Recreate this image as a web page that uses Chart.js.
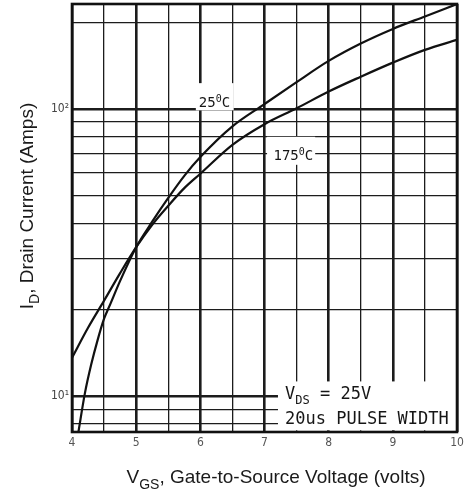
<!DOCTYPE html>
<html>
<head>
<meta charset="utf-8">
<script src="https://cdn.jsdelivr.net/npm/chart.js@4.4.1/dist/chart.umd.min.js"></script>
<style>
  html, body { margin: 0; padding: 0; background: #fff; }
  #wrap { width: 466px; height: 498px; }
</style>
</head>
<body>
<div id="wrap"><canvas id="transferChart" width="466" height="498"></canvas></div>
<script>
// 25 C curve (steeper one, crosses 175 C near 5 V)
const vgs25 = [4.1, 4.2, 4.3, 4.4, 4.5, 4.6, 4.75, 5.0, 5.25, 5.5, 5.75, 6.0, 6.5, 7.0, 7.5, 8.0, 8.5, 9.0, 9.5, 10.0];
const id25  = [7.5, 10.2, 12.9, 15.7, 18.6, 21, 25.2, 33, 40.5, 49, 58.5, 68, 87, 104, 124, 147, 169, 190, 210, 232];

// 175 C curve
const vgs175 = [4.0, 4.25, 4.5, 4.75, 5.0, 5.25, 5.5, 5.75, 6.0, 6.5, 7.0, 7.5, 8.0, 8.5, 9.0, 9.5, 10.0];
const id175  = [13.6, 17.3, 21.5, 26.8, 33, 39.5, 46, 53, 59.5, 75, 88.5, 100.5, 115, 129.5, 145, 160.6, 174];

const yGridValues = [8, 9, 10, 20, 30, 40, 50, 60, 70, 80, 90, 100, 200];
const yLabelValues = [10, 100];
const yLabelTexts = ['10\u00b9', '10\u00b2'];

function toPoints(xs, ys) {
    return xs.map((x, i) => ({ x: x, y: ys[i] }));
}

// text pieces: [text, 'sub' | 'sup' | '']
const notes = [
    { parts: [['25', ''], ['0', 'sup'], ['C', '']], x: 6.22, y: 101.6, align: 'center', size: 14,
      box: [5.93, 98.9, 6.52, 123] },
    { parts: [['175', ''], ['0', 'sup'], ['C', '']], x: 7.45, y: 66.5, align: 'center', size: 14,
      box: [7.04, 63.9, 7.79, 80] },
    { parts: [['V', ''], ['DS', 'sub'], [' = 25V', '']], x: 7.32, y: 9.78, align: 'left', size: 17,
      box: [7.21, 7.6, 10, 11.25] },
    { parts: [['20us PULSE WIDTH', '']], x: 7.32, y: 7.97, align: 'left', size: 17, box: null }
];

function drawParts(ctx, parts, x, y, align, size, family) {
    const small = Math.round(size * 0.72);
    const fontFor = kind => (kind ? small : size) + 'px ' + family;
    let total = 0;
    parts.forEach(p => { ctx.font = fontFor(p[1]); total += ctx.measureText(p[0]).width; });
    let cx = align === 'center' ? x - total / 2 : x;
    ctx.textAlign = 'left';
    ctx.textBaseline = 'alphabetic';
    parts.forEach(p => {
        ctx.font = fontFor(p[1]);
        let dy = 0;
        if (p[1] === 'sub') dy = size * 0.3;
        if (p[1] === 'sup') dy = -size * 0.38;
        ctx.fillText(p[0], cx, y + dy);
        cx += ctx.measureText(p[0]).width;
    });
}

const sheetPlugin = {
    id: 'sheet',
    beforeDatasetsDraw(chart) {
        const ctx = chart.ctx;
        const xs = chart.scales.x, ys = chart.scales.y;
        const area = chart.chartArea;
        ctx.save();
        ctx.fillStyle = '#fff';
        notes.forEach(n => {
            if (!n.box) return;
            const x0 = xs.getPixelForValue(n.box[0]);
            const x1 = xs.getPixelForValue(n.box[2]);
            const y0 = ys.getPixelForValue(n.box[3]);
            const y1 = ys.getPixelForValue(n.box[1]);
            ctx.fillRect(x0, y0, x1 - x0, y1 - y0);
        });
        // frame
        ctx.strokeStyle = '#111';
        ctx.lineWidth = 2.6;
        ctx.strokeRect(area.left, area.top, area.right - area.left, area.bottom - area.top);
        ctx.restore();
    },
    afterDraw(chart) {
        const ctx = chart.ctx;
        const xs = chart.scales.x, ys = chart.scales.y;
        ctx.save();
        ctx.fillStyle = '#161616';
        notes.forEach(n => {
            drawParts(ctx, n.parts, xs.getPixelForValue(n.x), ys.getPixelForValue(n.y),
                n.align, n.size, '"DejaVu Sans Mono", monospace');
        });

        // axis titles with subscripts
        ctx.fillStyle = '#1a1a1a';
        drawParts(ctx, [['V', ''], ['GS', 'sub'], [', Gate-to-Source Voltage (volts)', '']],
            276, 483, 'center', 19, '"Liberation Sans", Arial, sans-serif');

        ctx.translate(33, 206);
        ctx.rotate(-Math.PI / 2);
        drawParts(ctx, [['I', ''], ['D', 'sub'], [', Drain Current (Amps)', '']],
            0, 0, 'center', 19, '"Liberation Sans", Arial, sans-serif');
        ctx.restore();
    }
};

const canvas = document.getElementById('transferChart');
new Chart(canvas, {
    type: 'line',
    data: {
        datasets: [{
            label: '25 C',
            data: toPoints(vgs25, id25),
            borderColor: '#111',
            borderWidth: 2.2,
            pointRadius: 0,
            cubicInterpolationMode: 'monotone',
            fill: false
        }, {
            label: '175 C',
            data: toPoints(vgs175, id175),
            borderColor: '#111',
            borderWidth: 2.2,
            pointRadius: 0,
            cubicInterpolationMode: 'monotone',
            fill: false
        }]
    },
    options: {
        responsive: false,
        animation: false,
        devicePixelRatio: 1,
        layout: { padding: { top: 4, right: 9, left: 0, bottom: 0 } },
        plugins: {
            legend: { display: false },
            tooltip: { enabled: false }
        },
        scales: {
            x: {
                type: 'linear',
                min: 4,
                max: 10,
                afterFit: s => { s.height = 66; s.paddingLeft = 0; s.paddingRight = 0; },
                border: { display: false },
                grid: {
                    color: '#1c1c1c',
                    drawTicks: false,
                    lineWidth: c => Number.isInteger(c.tick.value) ? 2.6 : 1.3
                },
                ticks: {
                    stepSize: 0.5,
                    autoSkip: false,
                    maxRotation: 0,
                    padding: 4,
                    color: '#555',
                    font: { family: '"DejaVu Sans Condensed", sans-serif', size: 12 },
                    callback: v => Number.isInteger(v) ? String(v) : ''
                }
            },
            y: {
                type: 'logarithmic',
                min: 7.5,
                max: 232,
                afterFit: s => { s.width = 72; s.paddingTop = 0; s.paddingBottom = 0; },
                afterBuildTicks: s => { s.ticks = yGridValues.map(v => ({ value: v })); },
                border: { display: false },
                grid: {
                    color: '#1c1c1c',
                    drawTicks: false,
                    lineWidth: c => yLabelValues.includes(c.tick.value) ? 2.6 : 1.3
                },
                ticks: {
                    autoSkip: false,
                    padding: 3,
                    color: '#444',
                    font: { family: '"DejaVu Sans Condensed", sans-serif', size: 12 },
                    callback: v => {
                        const i = yLabelValues.indexOf(v);
                        return i >= 0 ? yLabelTexts[i] : '';
                    }
                }
            }
        }
    },
    plugins: [sheetPlugin]
});
</script>
</body>
</html>
